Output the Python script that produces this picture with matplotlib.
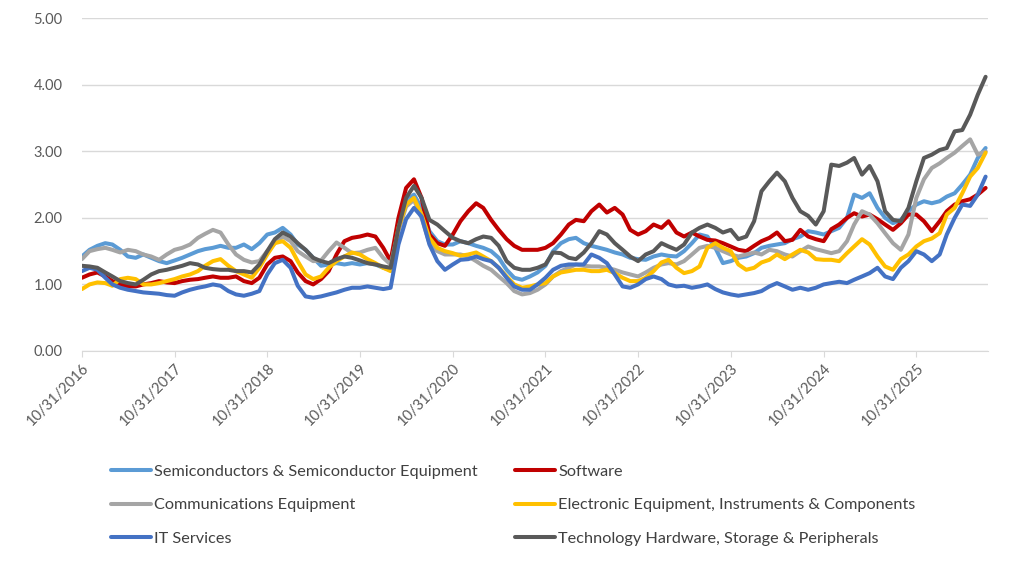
import matplotlib
matplotlib.use("Agg")
import matplotlib.pyplot as plt
import pandas as pd

plt.rcParams["font.family"] = ["Lato", "DejaVu Sans"]

# monthly readings, starting 10/31/2016
semis = [1.42, 1.52, 1.58, 1.62, 1.60, 1.52, 1.42, 1.40, 1.45, 1.40, 1.35, 1.32, 1.36, 1.40, 1.45, 1.50, 1.53, 1.55, 1.58,
         1.55, 1.55, 1.60, 1.53, 1.62, 1.75, 1.78, 1.85, 1.75, 1.60, 1.52, 1.40, 1.28, 1.30, 1.32, 1.30, 1.32, 1.30, 1.32, 1.30, 1.25, 1.22,
         1.85, 2.25, 2.35, 2.15, 1.80, 1.65, 1.60, 1.60, 1.65, 1.62, 1.58, 1.55, 1.50, 1.40, 1.22, 1.10, 1.07, 1.12, 1.18,
         1.28, 1.50, 1.62, 1.68, 1.70, 1.62, 1.58, 1.55, 1.52, 1.48, 1.45, 1.40, 1.38, 1.37, 1.42, 1.45, 1.43, 1.42, 1.50, 1.62, 1.75, 1.72, 1.55, 1.32, 1.35, 1.40, 1.42, 1.47,
         1.55, 1.58, 1.60, 1.62, 1.68, 1.72, 1.80, 1.78, 1.75, 1.80, 1.85, 2.00, 2.35, 2.30, 2.37, 2.15, 2.00, 1.92, 1.97, 2.10, 2.20, 2.25, 2.22, 2.25, 2.32, 2.37, 2.50, 2.65, 2.90, 3.05]
software = [1.10, 1.15, 1.18, 1.12, 1.05, 1.00, 0.97, 0.97, 1.00, 1.02, 1.05, 1.03, 1.02, 1.05, 1.07, 1.08, 1.10, 1.12, 1.10,
            1.10, 1.12, 1.05, 1.02, 1.10, 1.30, 1.40, 1.42, 1.35, 1.18, 1.05, 1.00, 1.08, 1.20, 1.45, 1.65, 1.70, 1.72, 1.75, 1.72, 1.55, 1.35,
            2.00, 2.45, 2.58, 2.30, 1.75, 1.62, 1.58, 1.75, 1.95, 2.10, 2.22, 2.15, 1.97, 1.82, 1.68, 1.58, 1.52, 1.52, 1.52,
            1.55, 1.62, 1.75, 1.90, 1.97, 1.95, 2.10, 2.20, 2.08, 2.15, 2.05, 1.82, 1.75, 1.80, 1.90, 1.85, 1.95, 1.78, 1.72, 1.78, 1.72, 1.67, 1.66, 1.62, 1.57, 1.52, 1.50, 1.58,
            1.65, 1.70, 1.78, 1.65, 1.67, 1.82, 1.72, 1.68, 1.65, 1.83, 1.90, 2.00, 2.07, 2.02, 2.05, 1.98, 1.90, 1.82, 1.92, 2.05, 2.05, 1.95, 1.80, 1.95, 2.10, 2.20, 2.25, 2.28, 2.35, 2.45]
comms = [1.38, 1.50, 1.53, 1.55, 1.52, 1.48, 1.52, 1.50, 1.45, 1.42, 1.37, 1.45, 1.52, 1.55, 1.60, 1.70, 1.76, 1.82, 1.78,
         1.60, 1.45, 1.37, 1.33, 1.35, 1.50, 1.62, 1.72, 1.65, 1.50, 1.42, 1.35, 1.36, 1.50, 1.63, 1.55, 1.47, 1.48, 1.52, 1.55, 1.40, 1.30,
         1.80, 2.17, 2.27, 2.00, 1.62, 1.50, 1.45, 1.45, 1.45, 1.42, 1.35, 1.28, 1.22, 1.12, 1.02, 0.90, 0.85, 0.87, 0.92,
         1.00, 1.12, 1.20, 1.25, 1.30, 1.28, 1.27, 1.27, 1.25, 1.22, 1.18, 1.15, 1.12, 1.18, 1.25, 1.30, 1.32, 1.30, 1.35, 1.45, 1.55, 1.58, 1.55, 1.50, 1.45, 1.42, 1.45, 1.48,
         1.45, 1.52, 1.50, 1.45, 1.42, 1.50, 1.57, 1.53, 1.50, 1.47, 1.50, 1.65, 1.90, 2.10, 2.05, 1.92, 1.77, 1.62, 1.52, 1.75, 2.30, 2.58, 2.75, 2.82, 2.90, 2.98, 3.08, 3.18, 2.95, 3.00]
electronic = [0.93, 1.00, 1.03, 1.02, 0.98, 1.08, 1.10, 1.08, 1.00, 1.00, 1.02, 1.05, 1.08, 1.12, 1.15, 1.20, 1.28, 1.35, 1.38,
              1.28, 1.20, 1.15, 1.10, 1.25, 1.45, 1.62, 1.65, 1.55, 1.35, 1.15, 1.08, 1.12, 1.25, 1.35, 1.42, 1.48, 1.45, 1.38, 1.32, 1.25, 1.20,
              1.85, 2.20, 2.30, 2.05, 1.70, 1.55, 1.50, 1.47, 1.43, 1.45, 1.48, 1.42, 1.35, 1.25, 1.12, 1.00, 0.95, 0.97, 1.00,
              1.02, 1.12, 1.18, 1.20, 1.22, 1.22, 1.20, 1.20, 1.22, 1.17, 1.10, 1.05, 1.05, 1.10, 1.20, 1.33, 1.37, 1.25, 1.17, 1.20, 1.27, 1.55, 1.62, 1.55, 1.50, 1.30, 1.22, 1.25,
              1.33, 1.37, 1.45, 1.38, 1.45, 1.52, 1.48, 1.38, 1.37, 1.37, 1.35, 1.47, 1.57, 1.68, 1.60, 1.42, 1.27, 1.22, 1.38, 1.45, 1.57, 1.65, 1.69, 1.77, 2.05, 2.15, 2.37, 2.62, 2.75, 2.98]
it_services = [1.20, 1.25, 1.22, 1.10, 1.00, 0.95, 0.92, 0.90, 0.88, 0.87, 0.86, 0.84, 0.83, 0.88, 0.92, 0.95, 0.97, 1.00, 0.98,
               0.90, 0.85, 0.83, 0.86, 0.90, 1.15, 1.32, 1.37, 1.25, 0.98, 0.82, 0.80, 0.82, 0.85, 0.88, 0.92, 0.95, 0.95, 0.97, 0.95, 0.93, 0.95,
               1.60, 1.98, 2.15, 2.02, 1.60, 1.35, 1.22, 1.30, 1.37, 1.38, 1.42, 1.38, 1.35, 1.25, 1.10, 0.97, 0.92, 0.92, 1.00,
               1.10, 1.22, 1.28, 1.30, 1.30, 1.30, 1.45, 1.40, 1.32, 1.15, 0.97, 0.95, 1.00, 1.08, 1.12, 1.08, 1.00, 0.97, 0.98, 0.95, 0.97, 1.00, 0.93, 0.88, 0.85, 0.83, 0.85, 0.87,
               0.90, 0.97, 1.02, 0.97, 0.92, 0.95, 0.92, 0.95, 1.00, 1.02, 1.04, 1.02, 1.07, 1.12, 1.17, 1.25, 1.12, 1.08, 1.25, 1.35, 1.50, 1.45, 1.35, 1.45, 1.75, 2.00, 2.20, 2.18, 2.35, 2.62]
hardware = [1.28, 1.27, 1.25, 1.18, 1.12, 1.05, 1.02, 1.00, 1.07, 1.15, 1.20, 1.22, 1.25, 1.28, 1.32, 1.30, 1.25, 1.23, 1.22,
            1.22, 1.20, 1.20, 1.18, 1.30, 1.50, 1.68, 1.78, 1.72, 1.62, 1.52, 1.40, 1.35, 1.32, 1.38, 1.42, 1.40, 1.36, 1.32, 1.30, 1.27, 1.25,
            1.85, 2.30, 2.48, 2.30, 1.97, 1.90, 1.80, 1.70, 1.65, 1.62, 1.68, 1.72, 1.70, 1.58, 1.35, 1.25, 1.22, 1.22, 1.25,
            1.30, 1.48, 1.47, 1.40, 1.38, 1.48, 1.62, 1.80, 1.75, 1.62, 1.52, 1.42, 1.35, 1.45, 1.50, 1.62, 1.57, 1.52, 1.60, 1.78, 1.85, 1.90, 1.85, 1.78, 1.82, 1.68, 1.72, 1.95,
            2.40, 2.55, 2.68, 2.55, 2.30, 2.10, 2.03, 1.90, 2.10, 2.80, 2.78, 2.83, 2.90, 2.65, 2.78, 2.55, 2.10, 1.97, 1.95, 2.15, 2.55, 2.90, 2.95, 3.02, 3.05, 3.30, 3.32, 3.55, 3.85, 4.12]

names = ["Semiconductors & Semiconductor Equipment", "Software", "Communications Equipment",
         "Electronic Equipment, Instruments & Components", "IT Services",
         "Technology Hardware, Storage & Peripherals"]
series = [semis, software, comms, electronic, it_services, hardware]
colors = ["#5B9BD5", "#C00000", "#A5A5A5", "#FFC000", "#4472C4", "#595959"]

dates = pd.date_range("2016-10-31", periods=len(semis), freq="ME")
tick_dates = pd.date_range("2016-10-31", "2025-10-31", freq="12ME")

fig = plt.figure(figsize=(10.24, 5.63), dpi=100)
ax = fig.add_axes([0.080, 0.3766, 0.885, 0.591])

handles = []
for name, vals, c in zip(names, series, colors):
    h, = ax.plot(dates, vals, color=c, lw=2.9, label=name, solid_capstyle="round", solid_joinstyle="round")
    handles.append(h)

ax.set_ylim(0, 5)
ax.set_yticks([0, 1, 2, 3, 4, 5])
ax.set_yticklabels([f"{v:.2f}" for v in range(6)])
ax.set_xlim(dates[0], dates[-1] + pd.Timedelta(days=10))
ax.set_xticks(tick_dates)
ax.set_xticklabels([d.strftime("%m/%d/%Y") for d in tick_dates], rotation=45,
                   ha="right", rotation_mode="anchor")

ax.grid(axis="y", color="#D9D9D9", lw=1)
ax.set_axisbelow(True)
for s in ["top", "right", "left"]:
    ax.spines[s].set_visible(False)
ax.spines["bottom"].set_color("#D9D9D9")
ax.tick_params(axis="y", length=0, pad=14, labelsize=10.5, labelcolor="#595959")
ax.tick_params(axis="x", length=4, color="#D9D9D9", pad=3, labelsize=10.5, labelcolor="#595959")

# legend rows: semis/software, comms/electronic, it/hardware
order = [0, 2, 4, 1, 3, 5]
fig.legend([handles[i] for i in order], [names[i] for i in order], ncol=2,
           loc="upper left", bbox_to_anchor=(0.094, 0.201), frameon=False,
           fontsize=11.7, labelcolor="#404040", handlelength=2.45, handletextpad=0.2,
           labelspacing=1.17, columnspacing=2.3)

fig.savefig("out.png", dpi=100)
